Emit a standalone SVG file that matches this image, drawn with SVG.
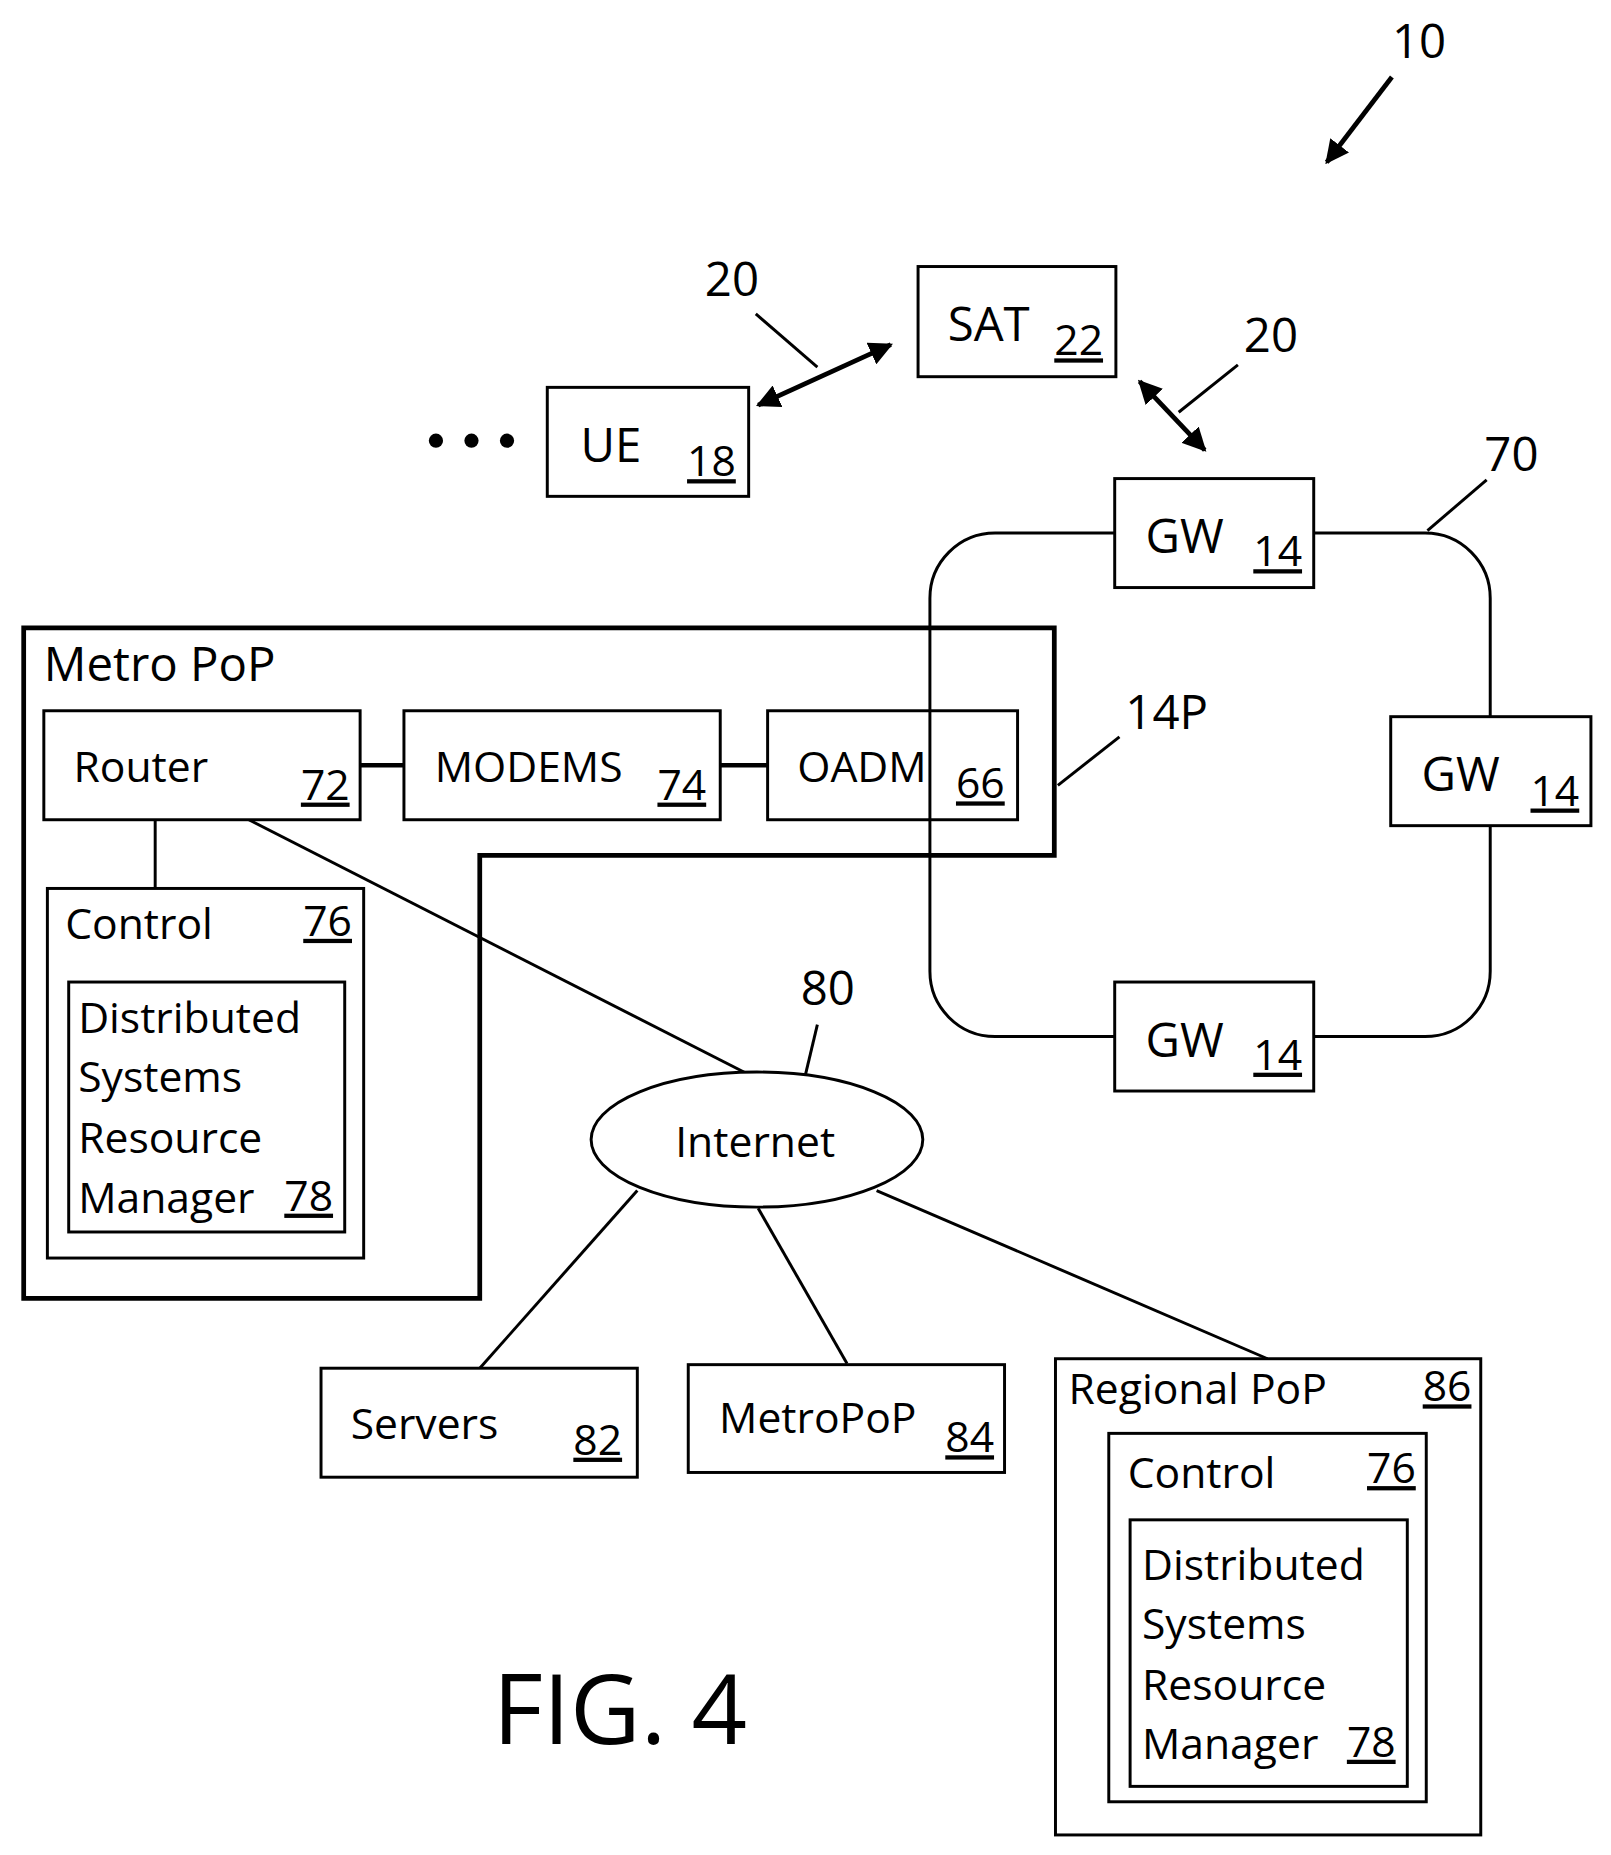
<svg xmlns="http://www.w3.org/2000/svg" width="1611" height="1855" viewBox="0 0 1611 1855">
<defs>
<style>
text{font-family:"Open Sans","Liberation Sans",sans-serif;fill:#000;font-size:36px}
.n{text-decoration:underline}
.r{font-size:40px}
.b{fill:#fff;stroke:#000;stroke-width:2.5}
.l{stroke:#000;stroke-width:2.5;fill:none}
.t{stroke:#000;stroke-width:4;fill:none}
</style>
<marker id="ah" viewBox="0 0 10 10" refX="9" refY="5" markerWidth="5" markerHeight="5" orient="auto-start-reverse"><path d="M0,0 L10,5 L0,10 z" fill="#000"/></marker>
</defs>
<rect width="1611" height="1855" fill="#fff"/>
<g transform="scale(1.1846)">
<g id="connectors">
<rect class="l" x="785" y="450" width="473" height="425" rx="55"/>
<line class="t" x1="1175" y1="65" x2="1120" y2="137" marker-end="url(#ah)"/>
<line class="l" x1="638" y1="265" x2="690" y2="310"/>
<line class="t" x1="640" y1="342" x2="752" y2="291" marker-start="url(#ah)" marker-end="url(#ah)"/>
<line class="l" x1="1045" y1="308" x2="995" y2="348"/>
<line class="t" x1="962" y1="322" x2="1017" y2="380" marker-start="url(#ah)" marker-end="url(#ah)"/>
<line class="l" x1="1255" y1="405" x2="1205" y2="448"/>
<line class="l" x1="945" y1="622" x2="893" y2="663"/>
<line class="t" x1="304" y1="646" x2="341" y2="646"/>
<line class="t" x1="608" y1="646" x2="648" y2="646"/>
<line class="l" x1="131" y1="692" x2="131" y2="750"/>
<line class="l" x1="210" y1="692" x2="630" y2="906"/>
<line class="l" x1="690" y1="865" x2="680" y2="907"/>
<line class="l" x1="538" y1="1005" x2="405" y2="1155"/>
<line class="l" x1="640" y1="1020" x2="715" y2="1151"/>
<line class="l" x1="740" y1="1005" x2="1070" y2="1147"/>
</g>
<g id="labels">
<text class="r" x="1175" y="49">10</text>
<text class="r" x="595" y="250">20</text>
<text class="r" x="1050" y="297">20</text>
<text class="r" x="1253" y="398">70</text>
<text class="r" x="950" y="615">14P</text>
<text class="r" x="676" y="848">80</text>
<circle cx="368" cy="372" r="6"/><circle cx="398" cy="372" r="6"/><circle cx="428" cy="372" r="6"/>
<text x="416" y="1472" style="font-size:82px">FIG. 4</text>
</g>
<g id="metro">
<path class="t" d="M20,530 H890 V722 H405 V1096 H20 Z"/>
<text x="37" y="575" style="font-size:40px">Metro PoP</text>
</g>
<g id="sat"><rect class="b" x="775" y="225" width="167" height="93"/><text class="r" x="800" y="288">SAT</text><text class="n" x="890" y="300">22</text></g>
<g id="ue"><rect class="b" x="462" y="327" width="170" height="92"/><text class="r" x="490" y="390">UE</text><text class="n" x="580" y="402">18</text></g>
<g id="gw1"><rect class="b" x="941" y="404" width="168" height="92"/><text class="r" x="967" y="467">GW</text><text class="n" x="1058" y="478">14</text></g>
<g id="gw2"><rect class="b" x="1174" y="605" width="169" height="92"/><text class="r" x="1200" y="668">GW</text><text class="n" x="1292" y="680">14</text></g>
<g id="gw3"><rect class="b" x="941" y="829" width="168" height="92"/><text class="r" x="967" y="892">GW</text><text class="n" x="1058" y="903">14</text></g>
<g id="router"><rect class="b" x="37" y="600" width="267" height="92"/><text x="62" y="660">Router</text><text class="n" x="254" y="675">72</text></g>
<g id="modems"><rect class="b" x="341" y="600" width="267" height="92"/><text x="367" y="660">MODEMS</text><text class="n" x="555" y="675">74</text></g>
<g id="oadm"><rect class="l" x="648" y="600" width="211" height="92"/><text x="673" y="660">OADM</text><text class="n" x="807" y="674">66</text></g>
<g id="control1"><rect class="b" x="40" y="750" width="267" height="312"/><text x="55" y="793">Control</text><text class="n" x="256" y="790">76</text>
<rect class="b" x="58" y="829" width="233" height="211"/>
<text x="66" y="872">Distributed</text><text x="66" y="922">Systems</text><text x="66" y="973">Resource</text><text x="66" y="1024">Manager</text><text class="n" x="240" y="1022">78</text></g>
<g id="internet"><ellipse class="b" cx="639" cy="962" rx="140" ry="57"/><text x="570" y="977">Internet</text></g>
<g id="servers"><rect class="b" x="271" y="1155" width="267" height="92"/><text x="296" y="1215">Servers</text><text class="n" x="484" y="1228">82</text></g>
<g id="metropop"><rect class="b" x="581" y="1152" width="267" height="91"/><text x="607" y="1210">MetroPoP</text><text class="n" x="798" y="1226">84</text></g>
<g id="regional"><rect class="b" x="891" y="1147" width="359" height="402"/><text x="902" y="1185">Regional PoP</text><text class="n" x="1201" y="1183">86</text>
<rect class="b" x="936" y="1210" width="268" height="311"/><text x="952" y="1256">Control</text><text class="n" x="1154" y="1252">76</text>
<rect class="b" x="954" y="1283" width="234" height="225"/>
<text x="964" y="1334">Distributed</text><text x="964" y="1384">Systems</text><text x="964" y="1435">Resource</text><text x="964" y="1485">Manager</text><text class="n" x="1137" y="1483">78</text></g>
</g>
</svg>
